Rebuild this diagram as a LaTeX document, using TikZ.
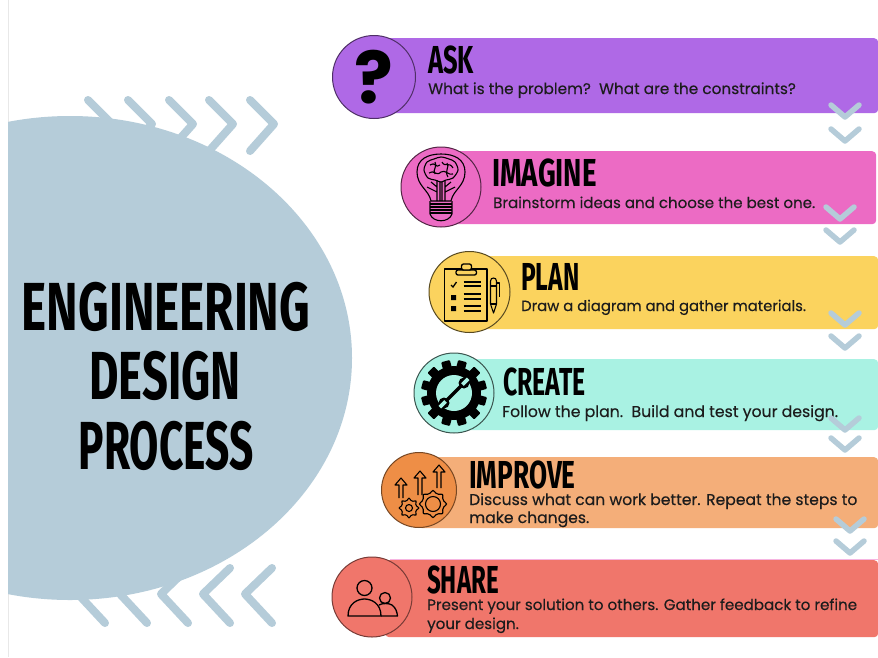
\documentclass[tikz,border=0pt]{standalone}
\usepackage{fontspec}
\setmainfont{Poppins}[FakeBold=0.3]
\newfontfamily\markfont{Poppins}
\newfontfamily\brushfont[FakeStretch=0.6]{Fira Sans}
\newcommand{\widened}[2]{\scalebox{#1}[1]{#2}}
\definecolor{mistblue}{HTML}{B5CCD9}
\definecolor{askcol}{HTML}{AF69E6}
\definecolor{imaginecol}{HTML}{EC6BC4}
\definecolor{plancol}{HTML}{FBD35E}
\definecolor{createcol}{HTML}{A9F2E3}
\definecolor{improvecol}{HTML}{F4AE79}
\definecolor{improvedark}{HTML}{EE8E46}
\definecolor{sharecol}{HTML}{F0766B}
\definecolor{inkcol}{HTML}{1C1C1C}
\tikzset{
  stepbar/.style={fill=#1, rounded corners=4pt, inner sep=0pt, anchor=north west},
  stepicon/.style={circle, draw=#1, line width=1pt, inner sep=0pt, minimum size=80pt},
  steptitle/.style={anchor=base west, inner sep=0pt, text=black, font=\brushfont\bfseries\fontsize{39}{39}\selectfont},
  stepbody/.style={anchor=base west, inner sep=0pt, text=inkcol, font=\fontsize{#1}{18}\selectfont},
  bigtitle/.style={inner sep=0pt, text=black, font=\brushfont\bfseries\fontsize{68}{68}\selectfont},
  chevron/.style={draw=mistblue, line width=#1, line cap=round, line join=round},
  iconline/.style={draw=black, line width=1.1pt, line join=round}
}
\begin{document}
\begin{tikzpicture}[x=1pt, y=-1pt]
\path[use as bounding box, fill=white] (0,0) rectangle (878,657);
\draw[black!9, line width=1pt] (8,0) -- (8,657);

% Chevrons behind the disc
\foreach \cx in {88,128,169,209,250}
  \draw[chevron=8pt] (\cx,100) -- ++(24,24) -- ++(-24,27);
\foreach \cx in {105,147,188,230,272}
  \draw[chevron=8pt] (\cx,568) -- ++(-27,26) -- ++(27,29);

% Disc
\begin{scope}
\clip (8,0) rectangle (400,657);
\fill[mistblue] (70,358) ellipse (282 and 242);
\end{scope}
\node[bigtitle] (engineering) at (166,307) {\widened{1.167}{ENGINEERING}};
\node[bigtitle] (design) at (165,376) {\widened{1.11}{DESIGN}};
\node[bigtitle] (process) at (166,446) {\widened{1.04}{PROCESS}};

% Bars
\node[stepbar=askcol, minimum width=493pt, minimum height=75pt] (askbar) at (385,38) {};
\node[stepbar=imaginecol, minimum width=426pt, minimum height=73pt] (imaginebar) at (450,151) {};
\node[stepbar=plancol, minimum width=400pt, minimum height=73pt] (planbar) at (478,256) {};
\node[stepbar=createcol, minimum width=420pt, minimum height=71pt] (createbar) at (458,359) {};
\node[stepbar=improvecol, minimum width=460pt, minimum height=71pt] (improvebar) at (418,457) {};
\draw[imaginecol!50, line width=1pt] (390,559.5) -- (878,559.5);
\node[stepbar=sharecol, minimum width=493pt, minimum height=77pt] (sharebar) at (385,560) {};

% Icon circles
\node[stepicon=askcol!45!black, fill=askcol, minimum size=83pt] (askicon) at (374,77) {};
\node[stepicon=imaginecol!35!black, fill=imaginecol] (imagineicon) at (441,187) {};
\node[stepicon=plancol!35!black, fill=plancol, minimum size=81pt] (planicon) at (469.5,292) {};
\node[stepicon=createcol!35!black, fill=createcol] (createicon) at (454,393) {};
\node[stepicon=improvedark!50!black, fill=improvedark, minimum size=75pt] (improveicon) at (419,490) {};
\node[stepicon=sharecol!50!black, fill=sharecol] (shareicon) at (372,597) {};

% Texts
\node[steptitle] (asktitle) at (428,73) {\widened{1.09}{ASK}};
\node[stepbody=15.3] (asktext) at (428,94) {What is the problem?\ \ What are the constraints?};
\node[steptitle] (imaginetitle) at (492,186) {\widened{1.18}{IMAGINE}};
\node[stepbody=15.05] (imaginetext) at (493,208) {Brainstorm ideas and choose the best one.};
\node[steptitle] (plantitle) at (521,290) {\widened{1.05}{PLAN}};
\node[stepbody=14.8] (plantext) at (521,311) {Draw a diagram and gather materials.};
\node[steptitle] (createtitle) at (503,395) {\widened{1.06}{CREATE}};
\node[stepbody=15.7] (createtext) at (502,417) {Follow the plan.\ \ Build and test your design.};
\node[steptitle] (improvetitle) at (469,488) {\widened{1.12}{IMPROVE}};
\node[stepbody=15.6] (improvetext) at (469,505) {Discuss what can work better. Repeat the steps to};
\node[stepbody=15.6] (improvemore) at (469,523) {make changes.};
\node[steptitle] (sharetitle) at (427,593) {\widened{1.03}{SHARE}};
\node[stepbody=15.1] (sharetext) at (427,610) {Present your solution to others. Gather feedback to refine};
\node[stepbody=15.1] (sharemore) at (427,629) {your design.};

% Ask icon
\node[inner sep=0pt, text=black, font=\markfont\bfseries\fontsize{72}{72}\selectfont] (askmark) at (askicon.center) {?};

% Imagine icon
\begin{scope}[shift={(imagineicon.center)}]
\draw[iconline] (-10,14) .. controls (-12,3) and (-24,-1) .. (-24,-15) .. controls (-24,-28) and (-13,-33) .. (0,-33)
  .. controls (13,-33) and (24,-28) .. (24,-15) .. controls (24,-1) and (12,3) .. (10,14) -- cycle;
\draw[iconline] plot[smooth cycle] coordinates {(-17,-17) (-14,-25) (-7,-28) (0,-30) (8,-28) (14,-25) (17,-17) (12,-9) (5,-7) (0,-5) (-6,-7) (-13,-9)};
\draw[iconline] (-11,-22) .. controls (-6,-26) and (-5,-18) .. (-1,-22) (1,-25) .. controls (4,-19) and (8,-26) .. (12,-19)
  (-12,-14) .. controls (-7,-18) and (-5,-10) .. (0,-15) .. controls (4,-18) and (8,-11) .. (12,-13)
  (-6,-25) .. controls (-3,-20) and (-9,-18) .. (-6,-13) (6,-24) .. controls (9,-20) and (3,-16) .. (7,-10);
\draw[iconline] (-1,-5) -- (-1,14) (1,-5) -- (1,14) (-4,-7) -- (-4,14) (4,-7) -- (4,14)
  (-4,0) -- (-10,-5) (4,0) -- (10,-5) (-4,5) -- (-14,0) (4,5) -- (14,0);
\draw[iconline, line width=1.6pt] (-11,17) -- (11,17) (-11,20) -- (11,20) (-11,23) -- (11,23) (-11,26) -- (11,26);
\draw[iconline] (-11,14) -- (-11,27) (11,14) -- (11,27) (-11,27) .. controls (-8,36) and (8,36) .. (11,27);
\end{scope}

% Plan icon
\begin{scope}[shift={(planicon.center)}]
\draw[iconline, line width=1.3pt] (-25,-23) rectangle (17.5,29);
\draw[iconline, line width=1.3pt, fill=plancol, rounded corners=2pt] (-13.5,-22) rectangle (7,-17);
\draw[iconline, line width=1.3pt, fill=plancol, rounded corners=2pt] (-8,-28) rectangle (2,-22);
\draw[black, line width=1.3pt] (-18.5,-7) -- (-16.5,-5) -- (-13,-10);
\fill[black] (-18.5,3) rectangle (-13.5,8) (-18.5,14) rectangle (-13.5,19);
\draw[black, line width=1.5pt] (-6,-10) -- (11,-10) (-6,-6) -- (11,-6) (-6,2) -- (11,2) (-6,7) -- (11,7) (-6,14) -- (11,14) (-6,19) -- (11,19);
\draw[iconline] (21,-11) -- (21,12) -- (24,21) -- (27,12) -- (27,-11) .. controls (27,-15) and (21,-15) .. (21,-11) -- cycle;
\draw[iconline] (21,-6) -- (27,-6) (21,12) -- (27,12) (27,-9) -- (30,-9) -- (30,5);
\end{scope}

% Create icon
\begin{scope}[shift={(createicon.center)}]
\fill[black] (0,0) circle (27);
\foreach \toothangle in {15,45,...,345}
  \fill[black, rotate=\toothangle, rounded corners=1pt] (-4.5,-33) rectangle (4.5,-24);
\fill[createcol] (0,0) circle (18);
\draw[black, line width=3.5pt] (-9,9) -- (9,-9);
\fill[black] (10,-10) circle (5.5) (-10,10) circle (5.5);
\fill[createcol, rotate=-45] (-1.8,-20) rectangle (1.8,-12);
\fill[createcol, rotate=-45] (-1.8,12) rectangle (1.8,20);
\end{scope}

% Improve icon
\begin{scope}[shift={(improveicon.center)}]
\foreach \ax/\at/\ab in {-18/-12/8, 1/-19/5, 20/-25/-2}
  \draw[iconline] (\ax-2,\ab) -- (\ax-2,\at+7) -- (\ax-6,\at+7) -- (\ax,\at) -- (\ax+6,\at+7) -- (\ax+2,\at+7) -- (\ax+2,\ab);
\begin{scope}[shift={(-10,18)}]
\draw[iconline] plot[smooth cycle, domain=0:345, samples=24] (\x:{8.5+1.4*cos(8*\x)});
\draw[iconline] (0,0) circle (3.5);
\end{scope}
\begin{scope}[shift={(14,14)}]
\draw[iconline, fill=improvedark] plot[smooth cycle, domain=0:345, samples=24] (\x:{12+1.6*cos(8*\x)});
\draw[iconline] (0,0) circle (7.5);
\end{scope}
\end{scope}

% Share icon
\begin{scope}[shift={(shareicon.center)}]
\draw[iconline, line width=1.3pt] (-7.5,-9) circle (7.5);
\draw[iconline, line width=1.3pt] (13,1) circle (5.5);
\draw[iconline, line width=1.3pt] (-24,19) .. controls (-24,6) and (-14,2) .. (-7.5,2) .. controls (-1,2) and (9,6) .. (9,19) -- cycle;
\draw[iconline, line width=1.3pt] (7,8) .. controls (10,6) and (17,6) .. (20,8) .. controls (24,11) and (25,15) .. (25.5,19) -- (9,19);
\end{scope}

% Chevrons between the bars
\foreach \cx/\ty in {845/105,845/129,840/207,840/230,845/313,845/336,845/418,845/438,850/519,850/541}
  \draw[chevron=5.5pt] (\cx-14,\ty) -- (\cx,\ty+12) -- (\cx+14,\ty);
\end{tikzpicture}
\end{document}
